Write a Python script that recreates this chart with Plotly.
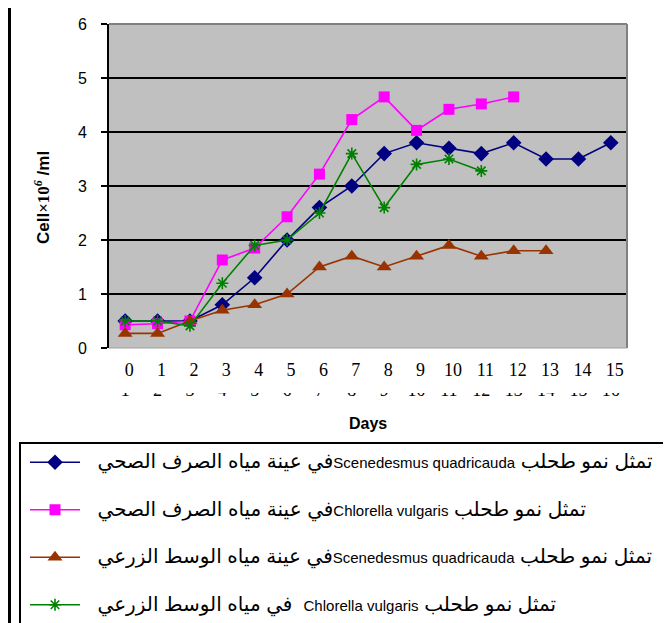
import plotly.graph_objects as go

# page body has an 8px margin: figure covers screen x 8..671, y 8..623
OFF = 8
W, H = 671 - OFF, 623 - OFF

days = list(range(16))
tick_labels = [str(d) for d in days]
hidden_labels = [str(d + 1) for d in days]

scen_waste = [0.5, 0.5, 0.5, 0.8, 1.3, 2.0, 2.6, 3.0, 3.6, 3.8, 3.7, 3.6, 3.8, 3.5, 3.5, 3.8]
chlor_waste = [0.43, 0.45, 0.5, 1.63, 1.85, 2.43, 3.22, 4.23, 4.65, 4.03, 4.42, 4.52, 4.65]
scen_agri = [0.27, 0.27, 0.5, 0.7, 0.8, 1.0, 1.5, 1.7, 1.5, 1.7, 1.9, 1.7, 1.8, 1.8]
chlor_agri = [0.5, 0.5, 0.41, 1.2, 1.9, 2.0, 2.5, 3.6, 2.6, 3.4, 3.5, 3.28]

# legend texts: (arabic prefix, latin species name, arabic suffix) in logical order
name_parts = [
    ("تمثل نمو طحلب ", "Scenedesmus quadricauda", "في عينة مياه الصرف الصحي"),
    ("تمثل نمو طحلب ", "Chlorella vulgaris", "في عينة مياه الصرف الصحي"),
    ("تمثل نمو طحلب ", "Scenedesmus quadricauda", "في عينة مياه الوسط الزرعي"),
    ("تمثل نمو طحلب ", "Chlorella vulgaris", "  في مياه الوسط الزرعي"),
]

RLE, PDF = "\u202b", "\u202c"
AR = "<span style='font-size:20px'>{}</span>"


def legend_name(pre, latin, post):
    return ("\u00a0\u00a0\u00a0" + RLE + AR.format(pre) + latin
            + AR.format(post.replace("  ", "\u00a0 ")) + PDF)


def px_x(p):
    return (p - OFF) / W


def px_y(p):
    return 1 - (p - OFF) / H


fig = go.Figure()

series = [
    (scen_waste, "#000080", dict(symbol="diamond", size=12, color="#000080")),
    (chlor_waste, "#FF00FF", dict(symbol="square", size=11, color="#FF00FF")),
    (scen_agri, "#993300", dict(symbol="triangle-up", size=13, color="#993300")),
    (chlor_agri, "#008000", dict(symbol="asterisk-open", size=10, color="#008000",
                                 line=dict(color="#008000", width=1.6))),
]
for i, (vals, col, mk) in enumerate(series):
    fig.add_trace(go.Scatter(
        x=days[:len(vals)], y=vals, mode="lines+markers",
        name=legend_name(*name_parts[i]), legendgroup=f"g{i}",
        line=dict(color=col, width=1.6), marker=mk,
    ))

# invisible trace carrying the secondary (clipped) category labels
fig.add_trace(go.Scatter(x=days, y=[None] * 16, xaxis="x2", showlegend=False,
                         hoverinfo="skip"))

xdom = [px_x(109), px_x(627)]
ydom = [px_y(348), px_y(24)]

fig.update_layout(
    width=W, height=H,
    margin=dict(l=0, r=0, t=0, b=0),
    paper_bgcolor="white",
    plot_bgcolor="#C0C0C0",
    showlegend=True,
    xaxis=dict(
        domain=xdom, range=[-0.5, 15.5], tickmode="array",
        tickvals=days, ticktext=tick_labels, showgrid=False, zeroline=False,
        showline=False, ticks="", automargin=False,
        tickfont=dict(family="Liberation Serif", size=18, color="black"),
        ticklabelstandoff=9, ticklabelshift=4,
    ),
    xaxis2=dict(
        overlaying="x", anchor="free", position=px_y(377), side="bottom",
        range=[-0.5, 15.5], tickmode="array", tickvals=days,
        ticktext=hidden_labels, showgrid=False, zeroline=False,
        showline=False, ticks="", automargin=False,
        tickfont=dict(family="Liberation Serif", size=18, color="black"),
    ),
    yaxis=dict(
        domain=ydom, range=[0, 6], dtick=1, tick0=0,
        showgrid=True, gridcolor="black", gridwidth=1.5, zeroline=False,
        showline=True, linecolor="black", linewidth=2,
        ticks="outside", ticklen=6, tickwidth=1.5, tickcolor="black",
        tickfont=dict(family="Liberation Sans", size=16, color="black"),
        ticklabelstandoff=11, automargin=False,
    ),
    legend=dict(
        x=px_x(25), y=px_y(446), xanchor="left", yanchor="top",
        bgcolor="rgba(0,0,0,0)", borderwidth=0,
        font=dict(family="Liberation Sans, DejaVu Sans", size=15, color="black"),
        itemwidth=50, tracegroupgap=25, traceorder="grouped",
    ),
    font=dict(family="Liberation Sans", color="black"),
    shapes=[
        # plot-area grey border (top, right, bottom)
        dict(type="line", xref="paper", yref="paper", x0=xdom[0], x1=xdom[1],
             y0=ydom[1], y1=ydom[1], line=dict(color="#808080", width=2), layer="above"),
        dict(type="line", xref="paper", yref="paper", x0=xdom[1], x1=xdom[1],
             y0=ydom[0], y1=ydom[1], line=dict(color="#808080", width=2), layer="above"),
        dict(type="line", xref="paper", yref="paper", x0=xdom[0], x1=xdom[1],
             y0=ydom[0], y1=ydom[0], line=dict(color="#A0A0A0", width=1), layer="above"),
        # cover for the clipped category labels
        dict(type="rect", xref="paper", yref="paper", x0=px_x(100), x1=px_x(640),
             y0=px_y(379), y1=px_y(393), fillcolor="white", line=dict(width=0),
             layer="above"),
        # outer chart frame
        dict(type="rect", xref="paper", yref="paper", x0=px_x(9.5), x1=px_x(700),
             y0=px_y(700), y1=px_y(6.5), line=dict(color="black", width=3),
             fillcolor="rgba(0,0,0,0)", layer="above"),
        # legend frame
        dict(type="rect", xref="paper", yref="paper", x0=px_x(20), x1=px_x(669),
             y0=px_y(700), y1=px_y(443), line=dict(color="black", width=2),
             fillcolor="rgba(0,0,0,0)", layer="above"),
    ],
    annotations=[
        dict(text="<b>Days</b>", xref="paper", yref="paper", x=px_x(368), y=px_y(423),
             xanchor="center", yanchor="middle", showarrow=False,
             font=dict(family="Liberation Sans", size=16, color="black")),
        dict(text="<b>Cell<span style='font-family:Liberation Serif'>×10<sup><i>6</i></sup></span> /ml</b>",
             xref="paper", yref="paper", x=px_x(42), y=px_y(198), textangle=-90,
             xanchor="center", yanchor="middle", showarrow=False,
             font=dict(family="Liberation Sans", size=17, color="black")),
    ],
)

fig.write_html("out.html")
